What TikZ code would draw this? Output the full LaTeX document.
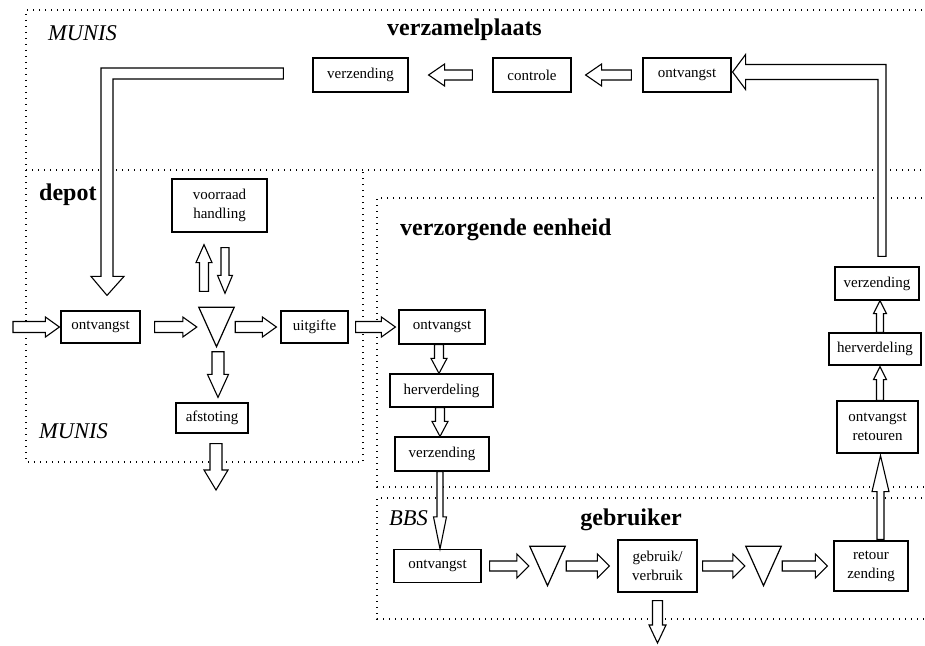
\documentclass[tikz,border=0pt]{standalone}
\usepackage{fontspec}
\setmainfont{Liberation Serif}
\usetikzlibrary{calc}

% block arrow: tail, tip, shaft half width, head half width, head length
\newcommand\blockarrow[5]{%
  \coordinate (ba-t) at #1;
  \coordinate (ba-p) at #2;
  \coordinate (ba-h) at ($(ba-p)!#5!(ba-t)$);
  \draw[arrowbody] ($(ba-t)!#3!90:(ba-p)$) -- ($(ba-h)!#3!90:(ba-p)$)
    -- ($(ba-h)!#4!90:(ba-p)$) -- (ba-p) -- ($(ba-h)!#4!-90:(ba-p)$)
    -- ($(ba-h)!#3!-90:(ba-p)$) -- ($(ba-t)!#3!-90:(ba-p)$) -- cycle;
}

\tikzset{
  box/.style={draw, line width=1.2pt, inner sep=0pt, align=center,
    font=\fontsize{15}{19}\selectfont},
  tribox/.style={inner sep=0pt, minimum width=35pt, minimum height=39pt},
  tri/.style={line width=1.2pt, line join=miter},
  arrowbody/.style={draw, fill=white, line width=1.1pt, line join=miter},
  region/.style={line width=1.4pt, dash pattern=on 1.4pt off 4.6pt},
  heading/.style={inner sep=0pt, font=\fontsize{24}{28}\selectfont\bfseries},
  system/.style={inner sep=0pt, anchor=west, font=\fontsize{22.5}{26}\selectfont\itshape},
}

\begin{document}
\begin{tikzpicture}[x=1pt, y=-1pt]
\useasboundingbox (0,0) rectangle (925,645);
\clip (0,0) rectangle (925,645);

% dotted organisation areas
\draw[region] (940,10) -- (26,10) -- (26,462) -- (363,462) -- (363,170);
\draw[region] (26,170) -- (940,170);
\draw[region] (940,198) -- (377,198) -- (377,487) -- (940,487);
\draw[region] (940,498) -- (377,498) -- (377,619) -- (940,619);

% area titles
\node[heading] (tvzp) at (464.5,30) {verzamelplaats};
\node[system] (munis1) at (48,33) {MUNIS};
\node[heading, anchor=west] (tdep) at (39,195) {depot};
\node[system] (munis2) at (39,431) {MUNIS};
\node[heading, anchor=west] (tvze) at (400,230) {verzorgende eenheid};
\node[system] (bbs) at (389,518) {BBS};
\node[heading] (tgeb) at (631,520) {gebruiker};

% verzamelplaats
\node[box, minimum width=95pt, minimum height=34pt] (vz1) at (360.5,75) {verzending};
\node[box, minimum width=78pt, minimum height=34pt] (ctrl) at (532,75) {controle};
\node[box, minimum width=88pt, minimum height=34pt] (ont1) at (687,75) {ontvangst};

% depot
\node[box, minimum width=95pt, minimum height=53pt] (vh) at (219.5,205.5) {voorraad\\handling};
\node[box, minimum width=79pt, minimum height=32pt] (ont2) at (100.5,327) {ontvangst};
\node[tribox] (tri1) at (216.5,327) {};
\node[box, minimum width=67pt, minimum height=32pt] (uit) at (314.5,327) {uitgifte};
\node[box, minimum width=72pt, minimum height=30pt] (afst) at (212,418) {afstoting};

% verzorgende eenheid
\node[box, minimum width=86pt, minimum height=34pt] (ont3) at (442,327) {ontvangst};
\node[box, minimum width=103pt, minimum height=33pt] (herv1) at (441.5,390.5) {herverdeling};
\node[box, minimum width=94pt, minimum height=34pt] (vz2) at (442,454) {verzending};
\node[box, minimum width=84pt, minimum height=33pt] (vz3) at (877,283.5) {verzending};
\node[box, minimum width=92pt, minimum height=32pt] (herv2) at (875,349) {herverdeling};
\node[box, minimum width=81pt, minimum height=52pt] (ontret) at (877.5,427) {ontvangst\\retouren};

% gebruiker
\node[box, minimum width=87pt, minimum height=33pt] (ont4) at (437.5,566) {ontvangst};
\node[tribox] (tri2) at (547.5,566) {};
\node[box, minimum width=79pt, minimum height=52pt] (gebr) at (657.5,566) {gebruik/\\verbruik};
\node[tribox] (tri3) at (763.5,566) {};
\node[box, minimum width=74pt, minimum height=50pt] (ret) at (871,566) {retour\\zending};

% storage triangles
\foreach \t in {tri1,tri2,tri3}
  \draw[tri] (\t.north west) -- (\t.north east) -- (\t.south) -- cycle;

% free ends
\coordinate (inL) at (13,327);
\coordinate (out1) at (216,490);
\coordinate (out2) at (657.5,643);

% depot flows
\blockarrow{(inL)}{([xshift=-1pt]ont2.west)}{5.5pt}{10pt}{14pt}
\blockarrow{([xshift=14pt]ont2.east)}{([xshift=-2pt]tri1.west)}{5.5pt}{10pt}{14pt}
\blockarrow{([xshift=1pt]tri1.east)}{([xshift=-4pt]uit.west)}{5.5pt}{10pt}{14pt}
\blockarrow{([xshift=7pt]uit.east)}{([xshift=-3pt]ont3.west)}{5.5pt}{10pt}{14pt}
\blockarrow{([xshift=-12.5pt,yshift=16pt]tri1.north)}{([xshift=-15.5pt,yshift=-12pt]vh.south)}{4.5pt}{8pt}{18pt}
\blockarrow{([xshift=5.5pt,yshift=-15pt]vh.south)}{([xshift=8.5pt,yshift=14pt]tri1.north)}{4pt}{7.5pt}{18pt}
\blockarrow{([xshift=1.5pt,yshift=-5pt]tri1.south)}{([xshift=6pt,yshift=5pt]afst.north)}{6pt}{10.5pt}{23pt}
\blockarrow{([xshift=4pt,yshift=-10pt]afst.south)}{(out1)}{6pt}{12pt}{20pt}

% verzamelplaats flows
\blockarrow{([xshift=-20pt]ctrl.west)}{([xshift=20pt]vz1.east)}{5pt}{11pt}{16pt}
\blockarrow{([xshift=-11pt]ont1.west)}{([xshift=14pt]ctrl.east)}{5pt}{11pt}{16pt}

% verzorgende eenheid flows
\blockarrow{([xshift=-3pt]ont3.south)}{([xshift=-2.5pt]herv1.north)}{4.5pt}{8pt}{15pt}
\blockarrow{([xshift=-1.5pt]herv1.south)}{([xshift=-2pt]vz2.north)}{4.5pt}{8pt}{15pt}
\blockarrow{([xshift=-2pt]vz2.south)}{([xshift=2.5pt]ont4.north)}{3pt}{6.5pt}{32pt}
\blockarrow{([xshift=5pt]herv2.north)}{([xshift=3pt]vz3.south)}{3.5pt}{6.5pt}{13pt}
\blockarrow{([xshift=2.5pt]ontret.north)}{([xshift=5pt,yshift=-1pt]herv2.south)}{3.5pt}{6.5pt}{13pt}

% gebruiker flows
\blockarrow{([xshift=8pt]ont4.east)}{([xshift=-1pt]tri2.west)}{5pt}{12pt}{12pt}
\blockarrow{([xshift=1pt]tri2.east)}{([xshift=-8pt]gebr.west)}{5pt}{12pt}{12pt}
\blockarrow{([xshift=5pt]gebr.east)}{([xshift=-1pt]tri3.west)}{5pt}{12pt}{12pt}
\blockarrow{([xshift=1pt]tri3.east)}{([xshift=-6pt]ret.west)}{5pt}{12pt}{12pt}
\blockarrow{([yshift=-8pt]gebr.south)}{(out2)}{5pt}{8.5pt}{18pt}
\blockarrow{([xshift=9.5pt,yshift=1pt]ret.north)}{([xshift=3pt,yshift=-2pt]ontret.south)}{3.5pt}{8.5pt}{36pt}

% returns from verzorgende eenheid to verzamelplaats
\coordinate (Rb) at ($(vz3.north)+(5,-10)$);
\coordinate (Rt) at ($(ont1.east)+(1,-3)$);
\draw[arrowbody] let \p1=(Rb), \p2=(Rt) in
  (\x1-4pt,\y1) -- (\x1-4pt,\y2-7.5pt) -- (\x2+13pt,\y2-7.5pt) -- (\x2+13pt,\y2-17.5pt)
  -- (\x2,\y2) -- (\x2+13pt,\y2+17.5pt) -- (\x2+13pt,\y2+7.5pt) -- (\x1+4pt,\y2+7.5pt)
  -- (\x1+4pt,\y1) -- cycle;

% verzamelplaats dispatch to depot
\coordinate (Lr) at ($(vz1.west)+(-29,-1.5)$);
\coordinate (Lt) at ($(ont2.north)+(6.5,-15)$);
\draw[arrowbody] let \p1=(Lr), \p2=(Lt) in
  (\x1,\y1+5.5pt) -- (\x2-6pt,\y1+5.5pt) -- (\x2-6pt,\y2+19pt) -- (\x2-16pt,\y2+19pt)
  -- (\x2,\y2) -- (\x2+17pt,\y2+19pt) -- (\x2+6pt,\y2+19pt) -- (\x2+6pt,\y1-5.5pt)
  -- (\x1,\y1-5.5pt) -- cycle;
\end{tikzpicture}
\end{document}
